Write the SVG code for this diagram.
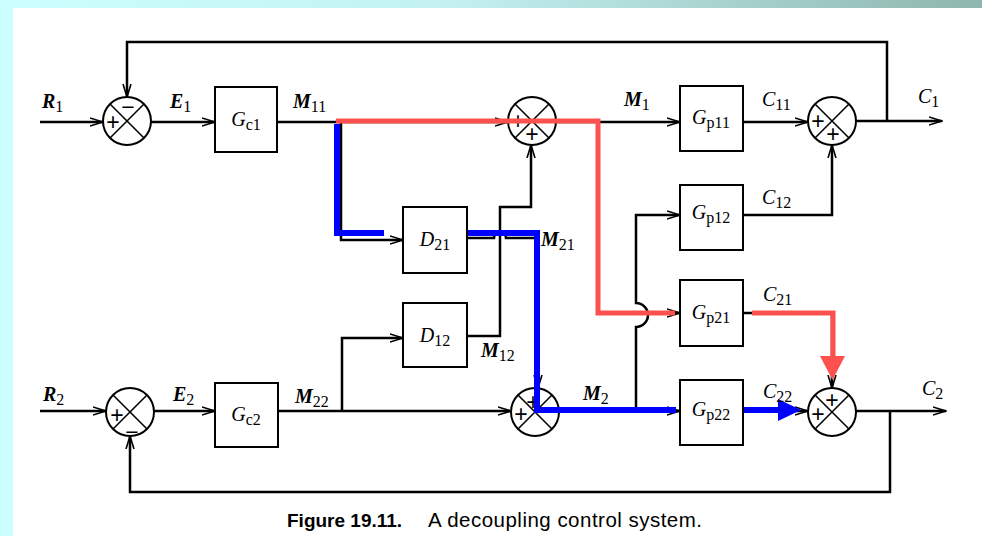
<svg xmlns="http://www.w3.org/2000/svg" width="982" height="536" viewBox="0 0 982 536">
<defs>
<linearGradient id="band" x1="0" y1="0" x2="1" y2="0">
<stop offset="0" stop-color="#CCFFFF"/>
<stop offset="0.45" stop-color="#C4F2F2"/>
<stop offset="1" stop-color="#8EB6AE"/>
</linearGradient>
<marker id="ar" markerUnits="userSpaceOnUse" viewBox="0 0 14 10" markerWidth="14" markerHeight="10" refX="13" refY="5" orient="auto">
<path d="M0,1 L13,5 L0,9" fill="none" stroke="#000" stroke-width="1.6"/>
</marker>
<style>
.bg{fill:#fff}
.blk{fill:#fff;stroke:#000;stroke-width:2}
.sum circle{fill:#fff;stroke:#000;stroke-width:2}
.sum line{stroke:#000;stroke-width:1.6}
.sg{font-family:"Liberation Sans",Arial,sans-serif;font-size:23px;fill:#000;text-anchor:middle}
.ln{fill:none;stroke:#000;stroke-width:2.5}
.ar{marker-end:url(#ar)}
.red{fill:none;stroke:#FF5050;stroke-width:5}
.blue{fill:none;stroke:#0000FF;stroke-width:6}
.lb{font-family:"Liberation Serif",serif;font-style:italic;font-weight:bold;font-size:20px;fill:#000}
.lbn{font-family:"Liberation Serif",serif;font-style:italic;font-size:20px;fill:#000}
.sb{font-style:normal;font-weight:normal;font-size:16px}
.bl{font-family:"Liberation Serif",serif;font-style:italic;font-size:20px;fill:#000;text-anchor:middle}
.cap{font-family:"Liberation Sans",Arial,sans-serif;font-size:19px;fill:#000}
</style>
</defs>
<rect class="bg" x="0" y="0" width="982" height="536"/>
<rect x="0" y="0" width="982" height="8" fill="url(#band)"/>
<rect x="0" y="0" width="13" height="536" fill="#CCFFFF"/>

<g id="connectors">
<path class="ln ar" d="M40,122 H103"/>
<path class="ln ar" d="M151,122 H215"/>
<path class="ln ar" d="M277,122 H508"/>
<path class="ln ar" d="M556,122 H680"/>
<path class="ln ar" d="M743,122 H808"/>
<path class="ln ar" d="M856,121 H942"/>
<path class="ln ar" d="M887,121 V42 H127 V97"/>
<path class="ln ar" d="M743,215 H832 V145"/>
<path class="ln ar" d="M341,122 V240 H403"/>
<path class="ln ar" d="M467,238 H494 A6,6 0 0 1 506,238 H538 V388"/>
<path class="ln ar" d="M467,336 H500 V207 H531 V145"/>
<path class="ln ar" d="M342,411 V338 H403"/>
<path class="ln ar" d="M278,411 H511"/>
<path class="ln ar" d="M559,411 H680"/>
<path class="ln ar" d="M636,411 V327 A12,12 0 0 0 636,303 V215 H680"/>
<path class="ln ar" d="M598,122 V313 H680"/>
<path class="ln ar" d="M743,313 H832 V388"/>
<path class="ln ar" d="M743,411 H808"/>
<path class="ln ar" d="M856,411 H946"/>
<path class="ln ar" d="M890,411 V492 H130 V436"/>
<path class="ln ar" d="M40,411 H106"/>
<path class="ln ar" d="M154,411 H215"/>
</g>

<g id="S1" class="sum"><circle cx="127" cy="121" r="24"/><line x1="110" y1="104" x2="144" y2="138"/><line x1="144" y1="104" x2="110" y2="138"/><text class="sg" x="128" y="115">−</text><text class="sg" x="113" y="130">+</text></g>
<g id="S2" class="sum"><circle cx="532" cy="121" r="24"/><line x1="515" y1="104" x2="549" y2="138"/><line x1="549" y1="104" x2="515" y2="138"/><text class="sg" x="518" y="129">+</text><text class="sg" x="532" y="142">+</text></g>
<g id="S3" class="sum"><circle cx="832" cy="121" r="24"/><line x1="815" y1="104" x2="849" y2="138"/><line x1="849" y1="104" x2="815" y2="138"/><text class="sg" x="818" y="129">+</text><text class="sg" x="833" y="142">+</text></g>
<g id="S4" class="sum"><circle cx="130" cy="412" r="24"/><line x1="113" y1="395" x2="147" y2="429"/><line x1="147" y1="395" x2="113" y2="429"/><text class="sg" x="117" y="423">+</text><text class="sg" x="132" y="440">−</text></g>
<g id="S5" class="sum"><circle cx="535" cy="412" r="24"/><line x1="518" y1="395" x2="552" y2="429"/><line x1="552" y1="395" x2="518" y2="429"/><text class="sg" x="521" y="422">+</text><text class="sg" x="533" y="410">+</text></g>
<g id="S6" class="sum"><circle cx="832" cy="412" r="24"/><line x1="815" y1="395" x2="849" y2="429"/><line x1="849" y1="395" x2="815" y2="429"/><text class="sg" x="818" y="422">+</text><text class="sg" x="832" y="408">+</text></g>

<g id="highlights">
<path class="blue" d="M337,124 V233 H384"/>
<path class="blue" d="M461,233 H537 V410 H676"/>
<path class="blue" d="M740,410 H780"/>
<polygon points="778,399 801,410 778,421" fill="#0000FF"/>
<path class="red" d="M336,121 H598 V313 H675"/>
<path class="red" d="M752,313 H833 V358"/>
<polygon points="820,356 845,356 832.5,380" fill="#FF5050"/>
</g>

<g id="Gc1"><rect class="blk" x="215" y="87" width="62" height="65"/><text class="bl" x="246" y="126">G<tspan class="sb" dy="4">c1</tspan></text></g>
<g id="Gc2"><rect class="blk" x="215" y="383" width="63" height="64"/><text class="bl" x="246" y="421">G<tspan class="sb" dy="4">c2</tspan></text></g>
<g id="Gp11"><rect class="blk" x="680" y="86" width="63" height="65"/><text class="bl" x="711" y="124">G<tspan class="sb" dy="4">p11</tspan></text></g>
<g id="Gp12"><rect class="blk" x="680" y="185" width="63" height="65"/><text class="bl" x="711" y="219">G<tspan class="sb" dy="4">p12</tspan></text></g>
<g id="Gp21"><rect class="blk" x="680" y="280" width="63" height="66"/><text class="bl" x="711" y="319">G<tspan class="sb" dy="4">p21</tspan></text></g>
<g id="Gp22"><rect class="blk" x="680" y="380" width="63" height="65"/><text class="bl" x="711" y="416">G<tspan class="sb" dy="4">p22</tspan></text></g>
<g id="D21"><rect class="blk" x="403" y="207" width="64" height="66"/><text class="bl" x="435" y="246">D<tspan class="sb" dy="4">21</tspan></text></g>
<g id="D12"><rect class="blk" x="403" y="303" width="64" height="64"/><text class="bl" x="435" y="342">D<tspan class="sb" dy="4">12</tspan></text></g>

<g id="labels">
<text class="lb" x="42" y="108">R<tspan class="sb" dy="4">1</tspan></text>
<text class="lb" x="170" y="108">E<tspan class="sb" dy="4">1</tspan></text>
<text class="lb" x="293" y="108">M<tspan class="sb" dy="4">11</tspan></text>
<text class="lb" x="624" y="106">M<tspan class="sb" dy="4">1</tspan></text>
<text class="lbn" x="762" y="106">C<tspan class="sb" dy="4">11</tspan></text>
<text class="lbn" x="918" y="103">C<tspan class="sb" dy="4">1</tspan></text>
<text class="lbn" x="762" y="204">C<tspan class="sb" dy="4">12</tspan></text>
<text class="lb" x="541" y="246">M<tspan class="sb" dy="4">21</tspan></text>
<text class="lb" x="481" y="357">M<tspan class="sb" dy="4">12</tspan></text>
<text class="lbn" x="763" y="301">C<tspan class="sb" dy="4">21</tspan></text>
<text class="lbn" x="763" y="398">C<tspan class="sb" dy="4">22</tspan></text>
<text class="lbn" x="922" y="395">C<tspan class="sb" dy="4">2</tspan></text>
<text class="lb" x="583" y="400">M<tspan class="sb" dy="4">2</tspan></text>
<text class="lb" x="43" y="401">R<tspan class="sb" dy="4">2</tspan></text>
<text class="lb" x="173" y="401">E<tspan class="sb" dy="4">2</tspan></text>
<text class="lb" x="295" y="403">M<tspan class="sb" dy="4">22</tspan></text>
</g>

<g id="caption">
<text class="cap" x="287" y="527"><tspan font-weight="bold">Figure 19.11.</tspan><tspan x="428" font-size="20.5px" textLength="274" lengthAdjust="spacing">A decoupling control system.</tspan></text>
</g>
</svg>
